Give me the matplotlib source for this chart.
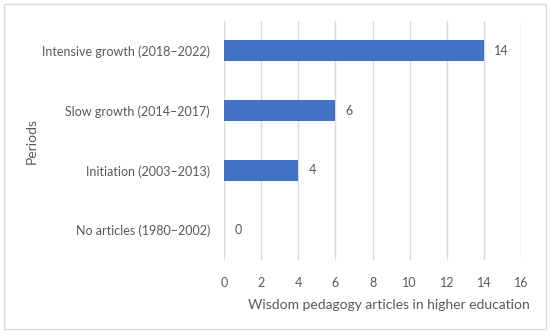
import matplotlib
matplotlib.use("Agg")
import matplotlib.pyplot as plt
from matplotlib.patches import Rectangle

categories = ["No articles (1980–2002)", "Initiation (2003–2013)",
              "Slow growth (2014–2017)", "Intensive growth (2018–2022)"]
values = [0, 4, 6, 14]
xticks = [0, 2, 4, 6, 8, 10, 12, 14, 16]

plt.rcParams['font.family'] = ['Lato', 'DejaVu Sans']
text_color = '#595959'

fig = plt.figure(figsize=(5.5, 3.35), dpi=100)
ax = fig.add_axes([224/550, 1-260/335, (521-224)/550, (260-21)/335])

ypos = list(range(len(categories)))
ax.barh(ypos, values, height=0.35, color='#4472C4', zorder=3)
for y, v in zip(ypos, values):
    ax.text(v + 0.55, y, str(v), va='center', ha='left', fontsize=9, color=text_color)

ax.set_xlim(0, 16)
ax.set_ylim(-0.5, len(categories) - 0.5)
ax.set_xticks(xticks)
ax.set_xticklabels([str(t) for t in xticks])
ax.set_yticks(ypos)
ax.set_yticklabels(categories)
ax.tick_params(axis='both', length=0, labelsize=9, labelcolor=text_color)
ax.tick_params(axis='x', pad=12)
ax.tick_params(axis='y', pad=10)
ax.grid(axis='x', color='#D9D9D9', linewidth=1, zorder=0)
for s in ax.spines.values():
    s.set_visible(False)

fig.text(530/550, 1-305/335, "Wisdom pedagogy articles in higher education",
         ha='right', va='center', fontsize=10, color=text_color)
fig.text(32/550, 1-141/335, "Periods", rotation=90, ha='center', va='center',
         fontsize=10, color=text_color)

fig.patches.append(Rectangle((4/550, 1-329/335), 542/550, 325/335,
                             transform=fig.transFigure, fill=False,
                             edgecolor='#D9D9D9', linewidth=1))

fig.savefig("out.png", dpi=100)
